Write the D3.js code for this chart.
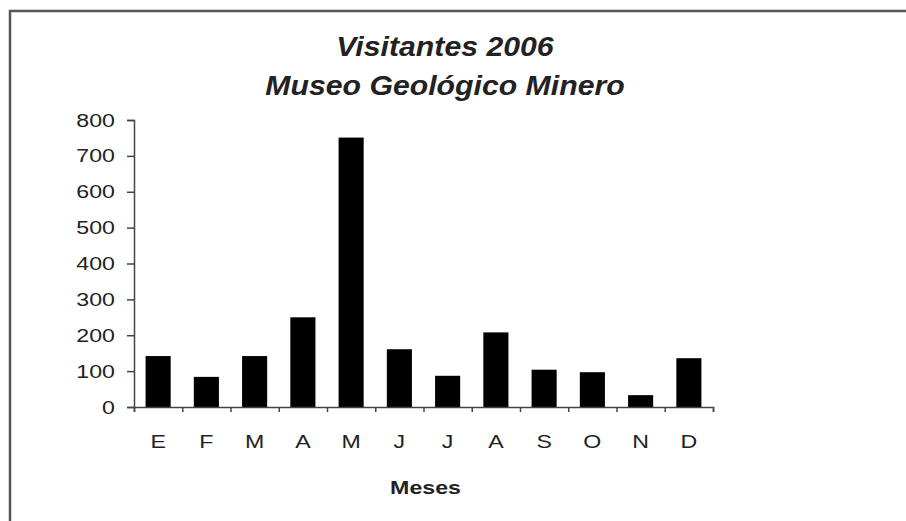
<!DOCTYPE html>
<html>
<head>
<meta charset="utf-8">
<script src="https://cdn.jsdelivr.net/npm/d3@7"></script>
<style>
  body { margin: 0; background: #fff; }
  text { font-family: "Liberation Sans", Arial, sans-serif; fill: #222; }
</style>
</head>
<body>
<svg id="chart" width="906" height="521"></svg>
<script>
// datos
const meses = ["E", "F", "M", "A", "M", "J", "J", "A", "S", "O", "N", "D"];
const visitantes = [142, 84, 142, 250, 751, 161, 87, 208, 104, 97, 33, 136];
const yTicks = [0, 100, 200, 300, 400, 500, 600, 700, 800];
const titulo = ["Visitantes 2006", "Museo Geológico Minero"];
const ejeX = "Meses";

const svg = d3.select("#chart");
const mLeft = 134, mRight = 713, mTop = 120, mBottom = 407;
const stretch = 1.22; // el original tiene el texto algo ensanchado

// marco
svg.append("path")
  .attr("d", "M10,521 L10,11 L906,11")
  .attr("fill", "none")
  .attr("stroke", "#555")
  .attr("stroke-width", 2.5);

const x = d3.scaleBand().domain(d3.range(meses.length)).range([mLeft, mRight]).paddingInner(0.48).paddingOuter(0.24);
const xb = d3.scaleLinear().domain([0, meses.length]).range([mLeft, mRight]);
const y = d3.scaleLinear().domain([0, 800]).range([mBottom, mTop]);

svg.selectAll("rect.bar")
  .data(visitantes)
  .enter().append("rect")
  .attr("class", "bar")
  .attr("x", (d, i) => x(i))
  .attr("width", x.bandwidth())
  .attr("y", d => y(d))
  .attr("height", d => y(0) - y(d))
  .attr("fill", "#000");

// eje Y
const gy = svg.append("g").attr("transform", `translate(${mLeft},0)`)
  .call(d3.axisLeft(y).tickValues(yTicks).tickSize(7).tickPadding(11));
gy.selectAll("text")
  .style("font-size", "19px")
  .attr("x", -19 / stretch)
  .attr("transform", `scale(${stretch},1)`);

// eje X: marcas entre categorías
const gx = svg.append("g").attr("transform", `translate(0,${mBottom})`)
  .call(d3.axisBottom(xb).tickValues(d3.range(meses.length + 1)).tickSize(5).tickFormat(""));
[gy, gx].forEach(g => {
  g.select(".domain").attr("stroke", "#444").attr("stroke-width", 1.5);
  g.selectAll(".tick line").attr("stroke", "#444").attr("stroke-width", 1.5);
});

svg.selectAll("text.mes")
  .data(meses)
  .enter().append("text")
  .attr("class", "mes")
  .attr("transform", (d, i) => `translate(${x(i) + x.bandwidth() / 2},448) scale(${stretch},1)`)
  .attr("text-anchor", "middle")
  .style("font-size", "19px")
  .text(d => d);

svg.append("text")
  .attr("transform", `translate(${(mLeft + mRight) / 2 + 2},494) scale(${stretch},1)`)
  .attr("text-anchor", "middle")
  .style("font-size", "19px")
  .style("font-weight", "bold")
  .text(ejeX);

svg.selectAll("text.titulo")
  .data(titulo)
  .enter().append("text")
  .attr("class", "titulo")
  .attr("transform", (d, i) => `translate(445,${56 + i * 39}) scale(1.12,1)`)
  .attr("text-anchor", "middle")
  .style("font-size", "27px")
  .style("font-weight", "bold")
  .style("font-style", "italic")
  .text(d => d);
</script>
</body>
</html>
